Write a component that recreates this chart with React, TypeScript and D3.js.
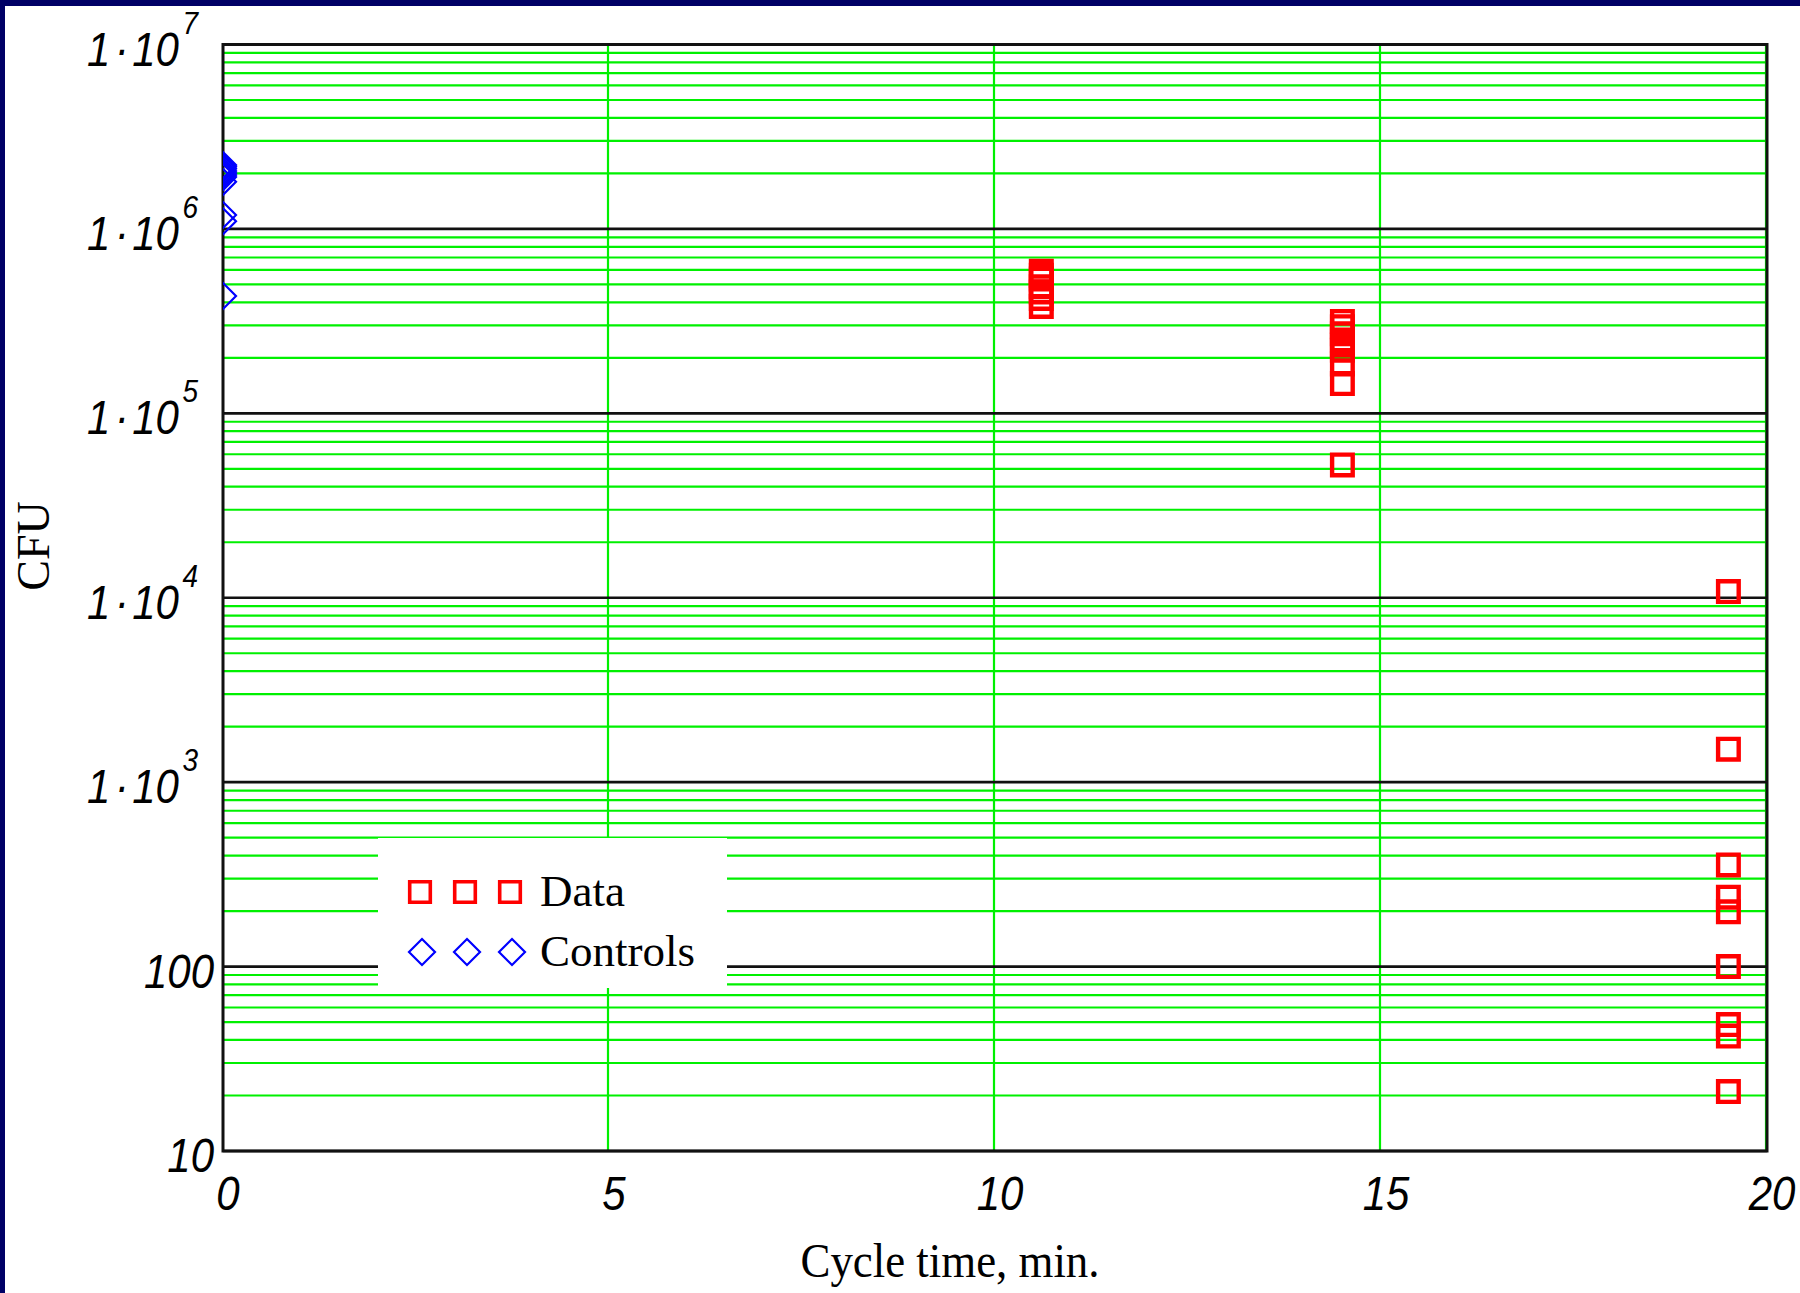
import * as d3 from 'd3';

// ticks
const xTicks = [0, 5, 10, 15, 20];
const yDecades = [10, 100, 1e3, 1e4, 1e5, 1e6, 1e7];

// Data series (red squares)
const dataTime = [
  10.6, 10.6, 10.6, 10.6, 10.6, 10.6, 10.6,
  14.5, 14.5, 14.5, 14.5, 14.5, 14.5, 14.5, 14.5, 14.5,
  19.5, 19.5, 19.5, 19.5, 19.5, 19.5, 19.5, 19.5, 19.5,
];
const dataCfu = [
  5.9e5, 5.6e5, 5.35e5, 4.85e5, 4.55e5, 4.2e5, 3.8e5,
  3.15e5, 2.95e5, 2.7e5, 2.5e5, 2.35e5, 2.2e5, 1.85e5, 1.45e5, 5.25e4,
  1.08e4, 1510, 356, 238, 198, 100, 48.5, 42, 21,
];

// Controls series (blue diamonds)
const controlTime = [0, 0, 0, 0, 0, 0, 0, 0, 0, 0, 0];
const controlCfu = [
  2.22e6, 2.17e6, 2.12e6, 2.06e6, 2.01e6, 1.96e6, 1.91e6, 1.8e6, 1.19e6, 1.1e6, 4.33e5,
];

const legendLabels = ['Data', 'Controls'];

const width = 1800,
  height = 1293,
  marginLeft = 223,
  marginRight = 33,
  marginTop = 44.5,
  marginBottom = 142;

const tickFont = '"Liberation Sans", Arial, sans-serif';
const titleFont = '"Liberation Serif", "Times New Roman", serif';

function square(cx: number, cy: number, h = 10.3) {
  return `M${cx - h},${cy - h}H${cx + h}V${cy + h}H${cx - h}Z`;
}

function diamond(cx: number, cy: number, h = 13) {
  return `M${cx},${cy - h}L${cx + h},${cy}L${cx},${cy + h}L${cx - h},${cy}Z`;
}

export default function App() {
  const x = d3
    .scaleLinear()
    .domain([0, 20])
    .range([marginLeft, width - marginRight]);
  const y = d3
    .scaleLog()
    .domain([10, 1e7])
    .range([height - marginBottom, marginTop]);

  const minor = yDecades
    .slice(0, -1)
    .flatMap((d) => d3.range(2, 10).map((m) => m * d));

  const [x0, x1] = x.range();
  const [y0, y1] = y.range();

  const legendX = 378,
    legendY = 838;

  return (
    <div style={{ position: 'absolute', left: 0, top: 0 }}>
      <svg width={width} height={height} style={{ display: 'block' }}>
        <defs>
          <clipPath id="plot">
            <rect x={x0} y={y1} width={x1 - x0} height={y0 - y1} />
          </clipPath>
        </defs>
        <rect width={width} height={height} fill="#000066" />
        <rect x={5} y={6} width={width - 5} height={height - 6} fill="#fff" />

        {/* minor grid */}
        {minor.map((v) => (
          <line
            key={v}
            x1={x0}
            x2={x1}
            y1={y(v)}
            y2={y(v)}
            stroke="#00f000"
            strokeWidth={2.2}
          />
        ))}
        {xTicks.slice(1).map((t) => (
          <line
            key={t}
            x1={x(t) - 1}
            x2={x(t) - 1}
            y1={y1}
            y2={y0}
            stroke="#00f000"
            strokeWidth={2.2}
          />
        ))}
        {/* decade lines */}
        {yDecades.map((v) => (
          <line
            key={v}
            x1={x0}
            x2={x1}
            y1={y(v)}
            y2={y(v)}
            stroke="#111"
            strokeWidth={2.7}
          />
        ))}
        <rect
          x={x0}
          y={y1}
          width={x1 - x0}
          height={y0 - y1}
          fill="none"
          stroke="#111"
          strokeWidth={3}
        />

        {/* markers */}
        <g clipPath="url(#plot)">
          {dataCfu.map((v, i) => (
            <path
              key={`d${i}`}
              d={square(x(dataTime[i]), y(v))}
              fill="none"
              stroke="#ff0000"
              strokeWidth={4.4}
            />
          ))}
          {controlCfu.map((v, i) => (
            <path
              key={`c${i}`}
              d={diamond(x(controlTime[i]), y(v))}
              fill="none"
              stroke="#0000ff"
              strokeWidth={2.2}
            />
          ))}
        </g>

        {/* legend */}
        <rect x={legendX} y={legendY} width={349} height={150} fill="#fff" />
        {legendLabels.map((label, i) => {
          const cy = legendY + 54 + i * 60;
          return (
            <g key={label}>
              {[0, 1, 2].map((k) =>
                i === 0 ? (
                  <path
                    key={k}
                    d={square(legendX + 42 + k * 45, cy)}
                    fill="none"
                    stroke="#ff0000"
                    strokeWidth={3.6}
                  />
                ) : (
                  <path
                    key={k}
                    d={diamond(legendX + 44 + k * 45, cy)}
                    fill="none"
                    stroke="#0000ff"
                    strokeWidth={2.2}
                  />
                )
              )}
              <text
                x={legendX + 162}
                y={cy + 14}
                fontFamily={titleFont}
                fontSize={45}
                fill="#000"
              >
                {label}
              </text>
            </g>
          );
        })}

        {/* y tick labels */}
        {yDecades.map((v) => {
          const exp = Math.round(Math.log10(v));
          const yy = y(v) + 21;
          return exp <= 2 ? (
            <text
              key={v}
              transform={`translate(214,${yy}) scale(0.875,1)`}
              textAnchor="end"
              fontFamily={tickFont}
              fontStyle="italic"
              fontSize={48}
              fill="#000"
            >
              {v}
            </text>
          ) : (
            <text
              key={v}
              transform={`translate(198,${yy}) scale(0.875,1)`}
              textAnchor="end"
              fontFamily={tickFont}
              fontStyle="italic"
              fontSize={48}
              fill="#000"
            >
              1<tspan dx={5}>·</tspan>
              <tspan dx={4}>10</tspan>
              <tspan dx={4} dy={-32} fontSize={32}>
                {exp}
              </tspan>
            </text>
          );
        })}

        {/* x tick labels */}
        {xTicks.map((t) => (
          <text
            key={t}
            transform={`translate(${x(t) + 5},1210) scale(0.875,1)`}
            textAnchor="middle"
            fontFamily={tickFont}
            fontStyle="italic"
            fontSize={48}
            fill="#000"
          >
            {t}
          </text>
        ))}

        {/* axis titles */}
        <text
          x={950}
          y={1277}
          textAnchor="middle"
          fontFamily={titleFont}
          fontSize={48}
          textLength={299}
          lengthAdjust="spacingAndGlyphs"
          fill="#000"
        >
          Cycle time, min.
        </text>
        <text
          transform="translate(49,546) rotate(-90)"
          textAnchor="middle"
          fontFamily={titleFont}
          fontSize={46}
          fill="#000"
        >
          CFU
        </text>
      </svg>
    </div>
  );
}
